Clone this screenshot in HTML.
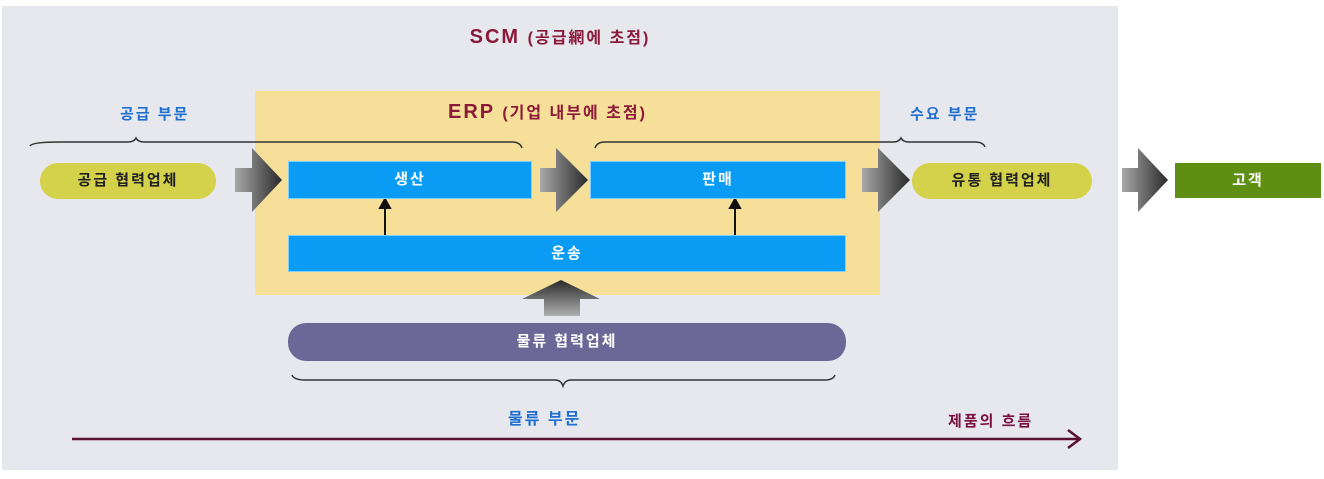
<!DOCTYPE html>
<html><head><meta charset="utf-8"><style>
body{margin:0;width:1324px;height:479px;background:#fff;position:relative;overflow:hidden;font-family:"Liberation Sans","Noto Sans CJK KR",sans-serif;font-weight:bold}
div{position:absolute;box-sizing:border-box}
.t{white-space:nowrap;letter-spacing:2px}
.blue{background:#0a9cf5;color:#fff;text-align:center;font-size:15px;border:1px solid #7fd0ff;letter-spacing:2px}
.pill{border-radius:18px;text-align:center;font-size:15px;letter-spacing:2px}
</style></head><body>
<div style="left:2px;top:6px;width:1116px;height:464px;background:#e6e8ee"></div>
<div style="left:255px;top:91px;width:625px;height:204px;background:#f6df98"></div>
<div class="t" style="left:0;width:1120px;top:24px;text-align:center;color:#8b1a3a;font-size:20px">SCM <span style="font-size:16px">(공급網에 초점)</span></div>
<div class="t" style="left:448px;top:99px;color:#8b1a3a;font-size:20px">ERP <span style="font-size:16px">(기업 내부에 초점)</span></div>
<div class="t" style="left:120px;top:103px;color:#1f6fd0;font-size:15px">공급 부문</div>
<div class="t" style="left:910px;top:103px;color:#1f6fd0;font-size:15px">수요 부문</div>
<div class="t" style="left:508px;top:405px;color:#1f6fd0;font-size:16px">물류 부문</div>
<div class="t" style="left:948px;top:410px;color:#7a1040;font-size:15px">제품의 흐름</div>
<svg style="position:absolute;left:0;top:0" width="1324" height="479">
<defs><linearGradient id="g" x1="0" x2="1"><stop offset="0" stop-color="#a8a8a8"/><stop offset="1" stop-color="#2a2a2a"/></linearGradient>
<linearGradient id="gv" x1="0" y1="1" x2="0" y2="0"><stop offset="0" stop-color="#b0b0b0"/><stop offset="1" stop-color="#2a2a2a"/></linearGradient></defs>
<g fill="none" stroke="#333" stroke-width="1.5">
<path d="M30 146 Q32 142 60 142 L128 142 Q134 142 136 138 Q138 142 144 142 L512 142 Q520 142 522 148"/>
<path d="M595 148 Q597 142 605 142 L893 142 Q899 142 901 138 Q903 142 909 142 L975 142 Q983 142 985 147"/>
<path d="M292 375 Q294 380 305 380 L555 380 Q561 380 563 386 Q565 380 571 380 L825 380 Q833 380 835 375"/>
</g>
<g fill="url(#g)">
<path d="M235 168 H252 V148 L282 180 L252 212 V192 H235Z"/>
<path d="M540 168 H556 V148 L588 180 L556 212 V192 H540Z"/>
<path d="M862 168 H878 V148 L910 180 L878 212 V192 H862Z"/>
<path d="M1122 168 H1138 V148 L1168 180 L1138 212 V192 H1122Z"/>
</g>
<path fill="url(#gv)" d="M544 316 V299 H522 L561 280 L600 299 H580 V316Z"/>
<g stroke="#111" stroke-width="2" fill="#111">
<line x1="385" y1="235" x2="385" y2="206"/><path d="M380 208 L385 199 L390 208Z"/>
<line x1="735" y1="235" x2="735" y2="206"/><path d="M730 208 L735 199 L740 208Z"/>
</g>
<line x1="72" y1="439" x2="1078" y2="439" stroke="#5a1030" stroke-width="2.5"/>
<path d="M1068 430 L1080 439 L1068 448" fill="none" stroke="#5a1030" stroke-width="2.5"/>
</svg>
<div class="pill" style="left:40px;top:163px;width:176px;height:36px;background:#d4d24a;line-height:36px;color:#222">공급 협력업체</div>
<div class="pill" style="left:912px;top:163px;width:180px;height:36px;background:#d4d24a;line-height:36px;color:#222">유통 협력업체</div>
<div class="blue" style="left:288px;top:161px;width:244px;height:38px;line-height:36px">생산</div>
<div class="blue" style="left:590px;top:161px;width:256px;height:38px;line-height:36px">판매</div>
<div class="blue" style="left:288px;top:235px;width:558px;height:37px;line-height:35px">운송</div>
<div style="left:1175px;top:163px;width:146px;height:35px;background:#5f8f12;color:#fff;text-align:center;line-height:35px;font-size:15px;letter-spacing:2px">고객</div>
<div class="pill" style="left:288px;top:323px;width:558px;height:38px;background:#6b6898;color:#fff;line-height:38px">물류 협력업체</div>
</body></html>
